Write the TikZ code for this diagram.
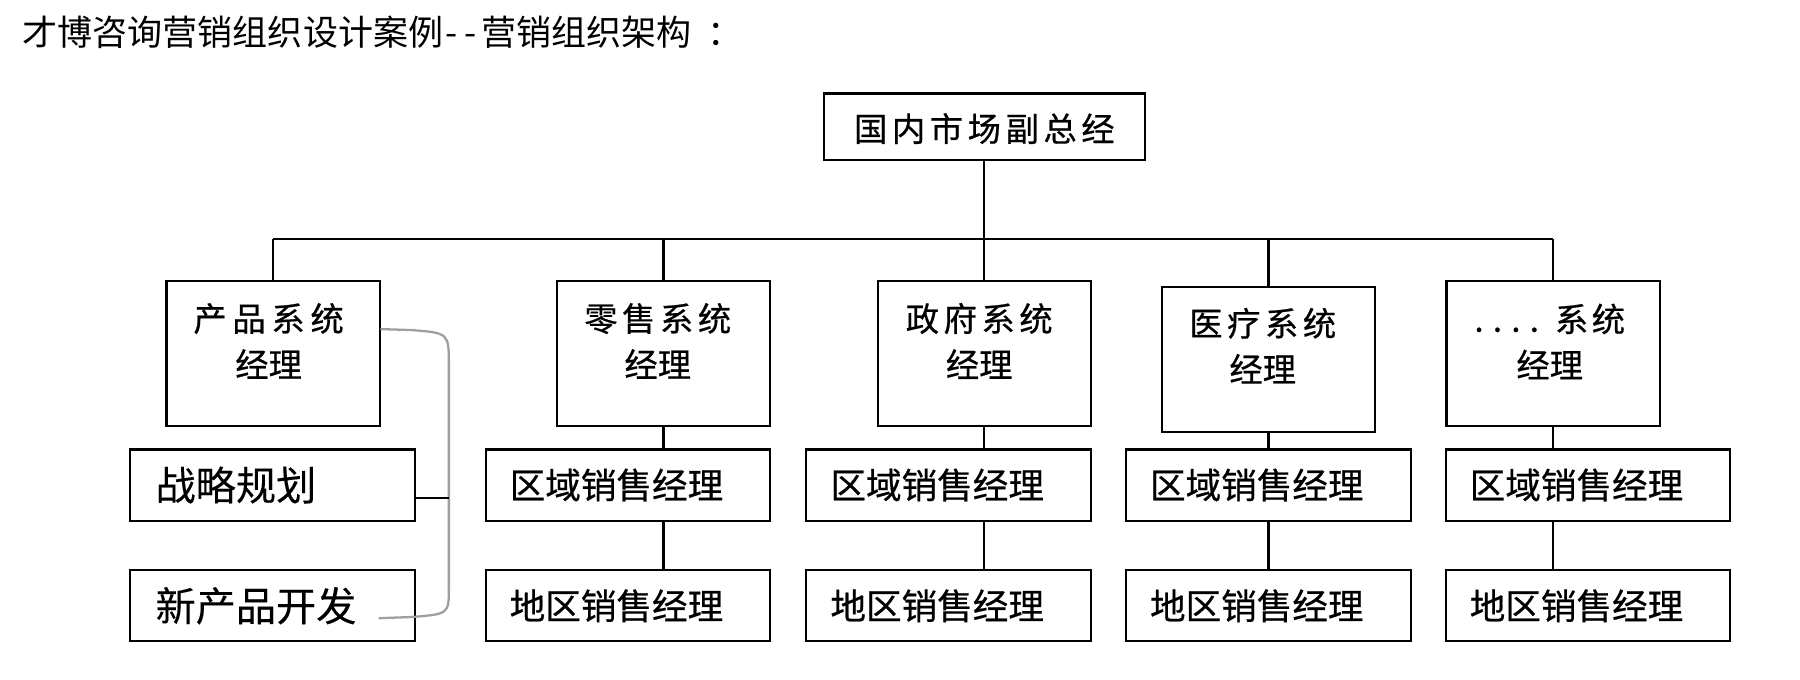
\documentclass[tikz,border=0pt]{standalone}
\usepackage{fontspec}
\setmainfont{Noto Sans CJK SC}
\usetikzlibrary{calc}
\begin{document}
\begin{tikzpicture}[x=1pt,y=-1pt,
  line width=1.9pt,
  frame/.style={draw=black, line width=1.9pt, inner sep=0pt},
  topbox/.style={frame, minimum width=279.5pt, minimum height=58pt},
  sysbox/.style={frame, minimum width=186pt, minimum height=126.5pt},
  subbox/.style={frame, minimum width=248pt, minimum height=62pt},
  sidebox/.style={frame, minimum width=248pt, minimum height=62pt},
  boxtext/.style={inner sep=0pt, font=\fontsize{29}{40}\selectfont\addfontfeature{FakeBold=0.6}, align=center},
  subtext/.style={inner sep=0pt, font=\fontsize{31}{36}\selectfont\addfontfeature{FakeBold=0.6}, anchor=west},
  sidetext/.style={inner sep=0pt, font=\fontsize{35}{40}\selectfont\addfontfeature{FakeBold=0.2}, anchor=west},
  titletext/.style={inner sep=0pt, font=\fontsize{30.5}{34}\selectfont, anchor=west},
  link/.style={draw=black, line width=1.9pt},
  bracket/.style={draw=gray!75, line width=2pt, line cap=round}
]
\useasboundingbox (0,0) rectangle (1568,591.5);

% title
\node[titletext] (title) at (19,28) {才博咨询营销组织设计案例\hspace{2pt}-\hspace{6pt}-\hspace{4pt}营销组织架构\hspace{14pt}：};

% top box
\node[topbox] (top) at (857.5,110.5) {};
\node[boxtext] (topt) at (857.5,112) {国\hspace{4pt}内\hspace{4pt}市\hspace{4pt}场\hspace{4pt}副\hspace{4pt}总\hspace{4pt}经};

% system boxes
\node[sysbox] (s1) at (238,307.7) {};
\node[sysbox] (s2) at (578,307.7) {};
\node[sysbox] (s3) at (857.5,307.7) {};
\node[sysbox] (s4) at (1105,313.2) {};
\node[sysbox] (s5) at (1353,307.7) {};

\node[boxtext] (s1t) at (234,297) {产\hspace{5pt}品\hspace{5pt}系\hspace{5pt}统\\经理\hspace{8pt}};
\node[boxtext] (s2t) at (573,297) {零\hspace{4pt}售\hspace{4pt}系\hspace{4pt}统\\经理\hspace{8pt}};
\node[boxtext] (s3t) at (853,297) {政\hspace{4pt}府\hspace{4pt}系\hspace{4pt}统\\经理\hspace{8pt}};
\node[boxtext] (s4t) at (1100,301.2) {医\hspace{4pt}疗\hspace{4pt}系\hspace{4pt}统\\经理\hspace{8pt}};
\node[boxtext] (s5t) at (1350,297.5) {.\hspace{8pt}.\hspace{8pt}.\hspace{8pt}.\hspace{14pt}系\hspace{3pt}统\\经理\hspace{12pt}};

% region boxes
\node[subbox] (r2) at (547,422.5) {};
\node[subbox] (r3) at (826.4,422.5) {};
\node[subbox] (r4) at (1104.8,422.5) {};
\node[subbox] (r5) at (1383.3,422.5) {};
\foreach \n in {r2,r3,r4,r5}
  \node[subtext] (\n t) at ([xshift=21pt]\n.west) {区域销售经理};

% area boxes
\node[subbox] (a2) at (547,527.7) {};
\node[subbox] (a3) at (826.4,527.7) {};
\node[subbox] (a4) at (1104.8,527.7) {};
\node[subbox] (a5) at (1383.3,527.7) {};
\foreach \n in {a2,a3,a4,a5}
  \node[subtext] (\n t) at ([xshift=21pt]\n.west) {地区销售经理};

% side boxes
\node[sidebox] (l1) at (237.5,422.5) {};
\node[sidebox] (l2) at (237.5,527.7) {};
\node[sidetext] (l1t) at ([xshift=22pt]l1.west) {战略规划};
\node[sidetext] (l2t) at ([xshift=22pt]l2.west) {新产品开发};

% bus
\coordinate (busL) at (238,208.5);
\coordinate (busR) at (1353,208.5);
\draw[link] (busL) -- (busR);
\draw[link] (top.south) -- (top.south |- busL);
\foreach \n in {s1,s2,s3,s4,s5}
  \draw[link] (\n.north |- busL) -- (\n.north);

% columns
\foreach \s/\r/\a in {s2/r2/a2,s3/r3/a3,s4/r4/a4,s5/r5/a5}{
  \draw[link] (\s.south) -- (\s.south |- \r.north);
  \draw[link] (\s.south |- \r.south) -- (\s.south |- \a.north);
}

% bracket
\coordinate (bs) at ([yshift=21pt]s1.east);
\coordinate (be) at (330.5,538.5);
\coordinate (bm) at (391,433.5);
\draw[bracket] (bs) -- (358,287.5) .. controls (391,290) .. (391,318) -- (391,512)
  .. controls (391,535) .. (358,537.5) -- (be);
\draw[link] (l1.east |- bm) -- (bm);
\end{tikzpicture}
\end{document}
